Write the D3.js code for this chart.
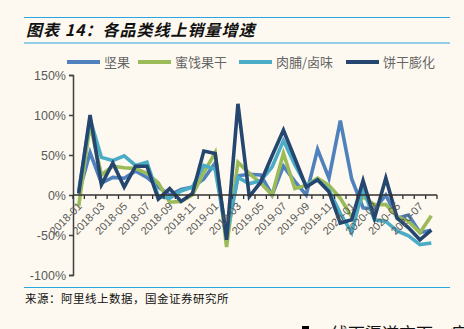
<!DOCTYPE html>
<html><head><meta charset="utf-8">
<script src="https://cdn.jsdelivr.net/npm/d3@7"></script>
<style>
html,body{margin:0;padding:0;background:#fdf9f0;}
svg{display:block;}
</style></head>
<body>
<svg id="c" width="464" height="329"></svg>
<script>
const months = ["2018-01","2018-02","2018-03","2018-04","2018-05","2018-06","2018-07","2018-08","2018-09","2018-10","2018-11","2018-12",
"2019-01","2019-02","2019-03","2019-04","2019-05","2019-06","2019-07","2019-08","2019-09","2019-10","2019-11","2019-12",
"2020-01","2020-02","2020-03","2020-04","2020-05","2020-06","2020-07","2020-08"];
const seriesNames = ["坚果","蜜饯果干","肉脯/卤味","饼干膨化"];
const nuts   = [2,53,15,22,21,30,22,10,0,7,10,20,40,-50,24,26,25,0,36,17,0,57,21,93,20,-16,-18,0,-29,-25,-47,-44];
const dried  = [-14,88,25,36,34,33,27,15,-9,-8,0,28,53,-65,41,27,15,0,52,8,12,21,12,-4,-27,-2,-12,-12,-27,-33,-47,-26];
const jerky  = [5,95,47,43,49,37,41,-2,-4,5,10,37,32,-51,22,14,18,35,68,38,12,19,6,-23,-47,8,-31,-33,-45,-51,-62,-60];
const snacks = [2,100,13,40,10,36,36,-5,8,-8,2,55,52,-56,114,-2,16,49,81,46,10,19,4,-35,-31,18,-29,21,-29,-41,-56,-44];
const yTicks = [150,100,50,0,-50,-100];
const colors = ["#4f81bd","#9bbb59","#4bacc6","#24466f"];
const seriesValues = [nuts,dried,jerky,snacks];

(function(){
const svg = d3.select("#c");
const W=464,H=329;
svg.append("rect").attr("width",W).attr("height",H).attr("fill","#fdf9f0");

const ruleColor="#2aa7e0";
[17.5,43].forEach(yy=>svg.append("line").attr("x1",24).attr("x2",450).attr("y1",yy).attr("y2",yy)
  .attr("stroke",ruleColor).attr("stroke-width",1.2));
svg.append("text").attr("x",26).attr("y",36).text("图表 14：各品类线上销量增速")
  .attr("font-family","'Noto Sans CJK SC'").attr("font-size",16).attr("font-weight","bold")
  .attr("font-style","italic").attr("letter-spacing",1).attr("fill","#111");

const pL=73,pR=437,pT=75,pB=275;
const x = d3.scaleBand().domain(months).range([pL,pR]).padding(0);
const y = d3.scaleLinear().domain([-100,150]).range([pB,pT]);

const yAxis = d3.axisLeft(y).tickValues(yTicks).tickSize(4).tickFormat(d=>d+"%");
const gy = svg.append("g").attr("transform",`translate(${pL},0)`).call(yAxis);
gy.select(".domain").attr("stroke","#404040").attr("stroke-width",1.5);
gy.selectAll(".tick line").attr("stroke","#404040").attr("stroke-width",1.5);
gy.selectAll(".tick text").attr("font-family","'Liberation Sans',Arial,sans-serif").attr("font-size",12.5)
  .attr("fill","#595959").attr("x",-7);

const line = d3.line().x((d,i)=>x(months[i])+x.bandwidth()/2).y(d=>y(d));
seriesValues.forEach((vals,k)=>{
  svg.append("path").datum(vals).attr("d",line).attr("fill","none")
    .attr("stroke",colors[k]).attr("stroke-width",3.6).attr("stroke-linejoin","miter");
});

const gx = svg.append("g").attr("transform",`translate(0,${y(0)})`);
gx.append("line").attr("x1",pL).attr("x2",pR).attr("y1",0).attr("y2",0).attr("stroke","#303030").attr("stroke-width",1.5);
const bounds = months.map(m=>x(m)).concat([pR]);
gx.selectAll("line.tk").data(bounds).enter().append("line").attr("class","tk")
  .attr("x1",d=>d).attr("x2",d=>d).attr("y1",0).attr("y2",4).attr("stroke","#303030").attr("stroke-width",1.3);
months.forEach((m,i)=>{
  if(i%2!==0) return;
  const cx = x(m)+x.bandwidth()/2;
  svg.append("text").attr("transform",`translate(${cx+4},${y(0)+12}) rotate(-45)`)
    .attr("text-anchor","end").attr("font-family","'Liberation Sans',Arial,sans-serif")
    .attr("font-size",11).attr("fill","#595959").text(m);
});

const legX=[67,138,239,346];
seriesNames.forEach((n,k)=>{
  svg.append("line").attr("x1",legX[k]).attr("x2",legX[k]+33).attr("y1",62).attr("y2",62)
    .attr("stroke",colors[k]).attr("stroke-width",4);
  svg.append("text").attr("x",legX[k]+37).attr("y",66.5).text(n)
    .attr("font-family","'Noto Sans CJK SC'").attr("font-size",13).attr("fill","#666");
});

svg.append("line").attr("x1",24).attr("x2",450).attr("y1",287.5).attr("y2",287.5)
  .attr("stroke",ruleColor).attr("stroke-width",1.2);
svg.append("text").attr("x",25).attr("y",303).text("来源：阿里线上数据，国金证券研究所")
  .attr("font-family","'Noto Sans CJK SC'").attr("font-size",11.5).attr("letter-spacing",0.5).attr("fill","#111");

svg.append("rect").attr("x",302).attr("y",326).attr("width",7).attr("height",7).attr("fill","#000");
svg.append("text").attr("x",331).attr("y",340).text("线下渠道方面，疫")
  .attr("font-family","'Noto Sans CJK SC'").attr("font-size",17).attr("fill","#111");
})();
</script>
</body></html>
